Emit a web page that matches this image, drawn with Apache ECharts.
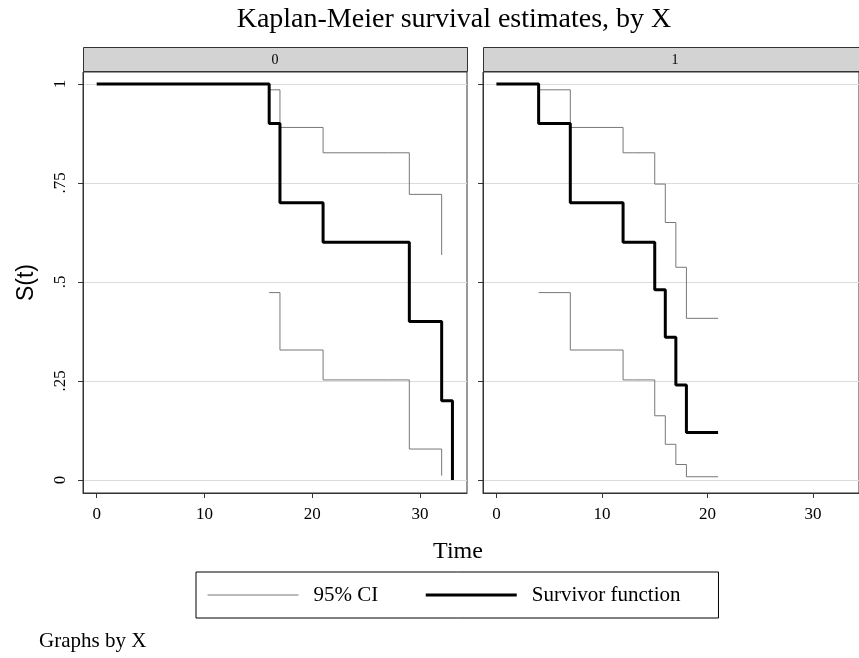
<!DOCTYPE html>
<html>
<head>
<meta charset="utf-8">
<script src="https://cdn.jsdelivr.net/npm/echarts@6/dist/echarts.min.js"></script>
<style>
  html, body { margin: 0; padding: 0; background: #fff; }
  #chart { width: 859px; height: 658px; }
</style>
</head>
<body>
<div id="chart"></div>
<script>
// 坐标轴刻度
const xTicks = [0, 10, 20, 30];
const yTicks = [0, 0.25, 0.5, 0.75, 1];
const yTickLabels = ["0", ".25", ".5", ".75", "1"];
const panels = ["0", "1"];

// X = 0
const survTime0 = [0, 16, 17, 21, 27, 29, 32, 33];
const survVal0 = [1, 0.9, 0.7, 0.6, 0.6, 0.4, 0.2, 0];
const ciTime0 = [16, 17, 21, 27, 29, 32];
const ciUpper0 = [0.985, 0.89, 0.826, 0.826, 0.721, 0.568];
const ciLower0 = [0.473, 0.328, 0.2525, 0.2525, 0.078, 0.011];

// X = 1
const survTime1 = [0, 4, 7, 12, 13, 15, 16, 17, 18, 21];
const survVal1 = [1, 0.9, 0.7, 0.6, 0.6, 0.48, 0.36, 0.24, 0.12, 0.12];
const ciTime1 = [4, 7, 12, 13, 15, 16, 17, 18, 21];
const ciUpper1 = [0.985, 0.89, 0.826, 0.826, 0.747, 0.65, 0.537, 0.408, 0.408];
const ciLower1 = [0.473, 0.328, 0.2525, 0.2525, 0.162, 0.09, 0.039, 0.008, 0.008];

const serif = "Liberation Serif";
const frameColor = "#333";

function pairs(t, v) {
  return t.map((x, i) => [x, v[i]]);
}

function survSeries(idx, t, v) {
  return {
    name: "Survivor function",
    type: "line",
    step: "end",
    xAxisIndex: idx,
    yAxisIndex: idx,
    data: pairs(t, v),
    symbol: "none",
    z: 3,
    lineStyle: { color: "#000", width: 3 },
    itemStyle: { color: "#000" }
  };
}

function ciSeries(idx, t, v) {
  return {
    name: "95% CI",
    type: "line",
    step: "end",
    xAxisIndex: idx,
    yAxisIndex: idx,
    data: pairs(t, v),
    symbol: "none",
    z: 2,
    lineStyle: { color: "#777", width: 1 },
    itemStyle: { color: "#777" }
  };
}

const gridLefts = [83, 483];
const gridTop = 72;
const gridW = 384;
const gridH = 421;

const chart = echarts.init(document.getElementById("chart"), null, { renderer: "canvas" });

const option = {
  animation: false,
  backgroundColor: "#fff",
  title: [
    {
      text: "Kaplan-Meier survival estimates, by X",
      left: 454,
      top: 6,
      padding: 0,
      textAlign: "center",
      textStyle: { fontFamily: serif, fontSize: 28, fontWeight: "normal", color: "#000" }
    },
    {
      text: "Time",
      left: 458,
      top: 540,
      padding: 0,
      textAlign: "center",
      textStyle: { fontFamily: serif, fontSize: 24, fontWeight: "normal", color: "#000" }
    },
    {
      text: "Graphs by X",
      left: 39,
      top: 631,
      padding: 0,
      textStyle: { fontFamily: serif, fontSize: 21, fontWeight: "normal", color: "#000" }
    }
  ],
  legend: {
    left: 196,
    top: 572,
    padding: [9, 38, 9, 11],
    itemGap: 46,
    itemWidth: 91,
    itemHeight: 14,
    borderColor: "#000",
    borderWidth: 1,
    itemStyle: { opacity: 0 },
    textStyle: { fontFamily: serif, fontSize: 21, color: "#000", lineHeight: 22, padding: [6, 0, 0, 10] },
    data: [
      { name: "95% CI", lineStyle: { color: "#777", width: 1 } },
      { name: "Survivor function", lineStyle: { color: "#000", width: 3 } }
    ]
  },
  grid: gridLefts.map(l => ({
    left: l,
    top: gridTop,
    width: gridW,
    height: gridH,
    show: true,
    borderColor: frameColor,
    borderWidth: 1,
    backgroundColor: "#fff"
  })),
  xAxis: gridLefts.map((l, i) => ({
    type: "value",
    gridIndex: i,
    min: -1.27,
    max: 34.35,
    axisLine: { show: true, onZero: false, lineStyle: { color: frameColor } },
    axisTick: { show: true, length: 5, customValues: xTicks, lineStyle: { color: frameColor } },
    axisLabel: {
      customValues: xTicks,
      margin: 13,
      fontFamily: serif,
      fontSize: 17,
      color: "#000"
    },
    splitLine: { show: false }
  })),
  yAxis: gridLefts.map((l, i) => ({
    type: "value",
    gridIndex: i,
    min: -0.033,
    max: 1.03,
    axisLine: { show: true, onZero: false, lineStyle: { color: frameColor } },
    axisTick: { show: true, length: 5, customValues: yTicks, lineStyle: { color: frameColor } },
    axisLabel: {
      show: i === 0,
      customValues: yTicks,
      rotate: 90,
      margin: 14,
      fontFamily: serif,
      fontSize: 17,
      color: "#000",
      formatter: v => yTickLabels[yTicks.indexOf(v)]
    },
    splitLine: { show: true, lineStyle: { color: "#dcdcdc", width: 1 } },
    name: i === 0 ? "S(t)" : "",
    nameLocation: "middle",
    nameGap: 45,
    nameTextStyle: { fontFamily: "Liberation Sans", fontSize: 23, color: "#000" }
  })),
  graphic: panels.flatMap((p, i) => [
    {
      type: "rect",
      shape: { x: gridLefts[i] + 0.5, y: 47.5, width: gridW, height: 24 },
      style: { fill: "#d3d3d3", stroke: frameColor, lineWidth: 1 },
      z: 10
    },
    {
      type: "text",
      x: gridLefts[i] + gridW / 2,
      y: 60,
      style: {
        text: p,
        fontFamily: serif,
        fontSize: 14,
        fill: "#000",
        align: "center",
        verticalAlign: "middle"
      },
      z: 11
    }
  ]),
  series: [
    ciSeries(0, ciTime0, ciUpper0),
    ciSeries(0, ciTime0, ciLower0),
    survSeries(0, survTime0, survVal0),
    ciSeries(1, ciTime1, ciUpper1),
    ciSeries(1, ciTime1, ciLower1),
    survSeries(1, survTime1, survVal1)
  ]
};

chart.setOption(option);
</script>
</body>
</html>
